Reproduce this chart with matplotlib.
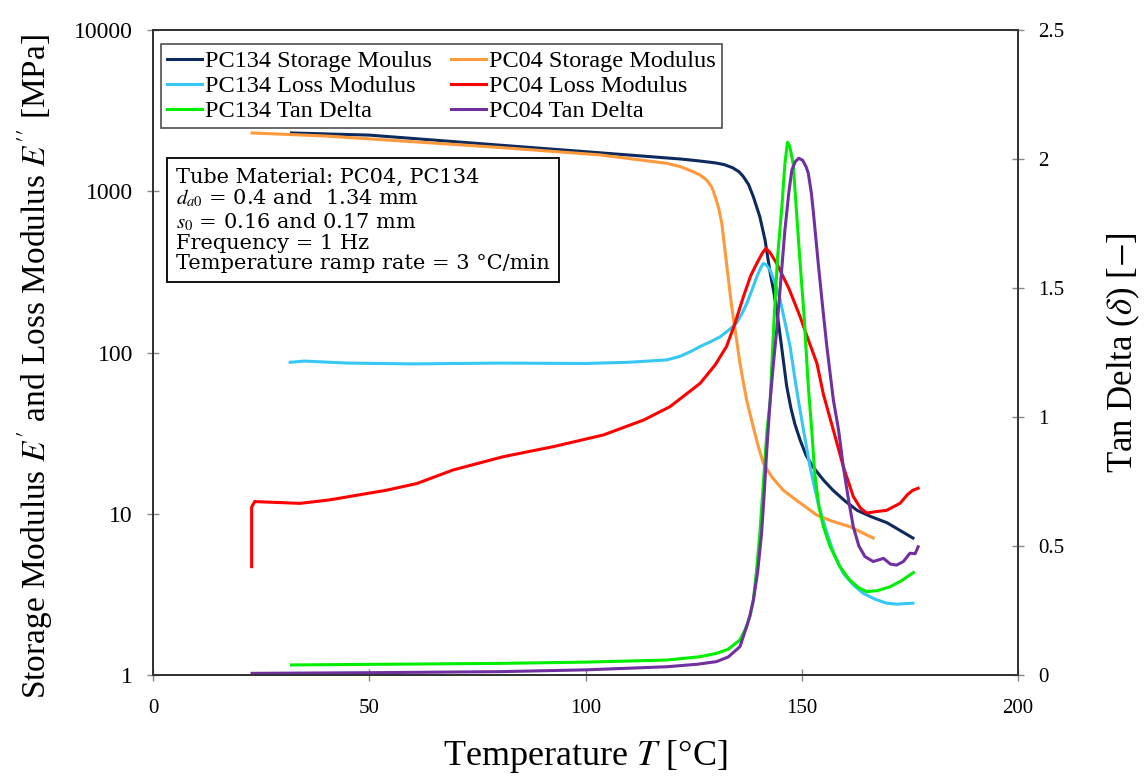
import matplotlib
matplotlib.use("Agg")
import matplotlib.pyplot as plt
from matplotlib.ticker import FixedLocator, FuncFormatter

plt.rcParams["font.family"] = ["Liberation Serif", "DejaVu Serif"]
plt.rcParams["mathtext.fontset"] = "stix"

# PC134 storage modulus E' [MPa]
pc134_sto_T = [32, 50, 75, 100, 122, 126, 130, 132, 134, 135.5, 136.5, 137.7, 138.8,
               140.3, 141.5, 142.7, 143.5, 144.2, 145.3, 146.5, 147.5, 148.4, 149.6,
               151, 152.6, 155, 157.2, 160, 162.8, 166, 169.7, 173, 175.7]
pc134_sto = [2300, 2230, 1980, 1760, 1585, 1545, 1500, 1465, 1400, 1320, 1232, 1100, 925,
             695, 499, 311, 240, 184, 110, 62, 45, 36, 28.7,
             23, 19.5, 16.2, 14.0, 12.0, 10.5, 9.6, 8.8, 7.8, 7.07]

# PC04 storage modulus E' [MPa]
pc04_sto_T = [22.9, 40, 60, 80, 103.4, 118.8, 122, 124.9, 126.5, 128, 129.2, 130, 130.8,
              131.5, 132.6, 133.8, 135.7, 136.5, 137.3, 138.5, 139.8, 141.1, 143, 145.7,
              149, 153.5, 157, 161.2, 166.5]
pc04_sto = [2300, 2200, 2030, 1870, 1680, 1490, 1420, 1322, 1260, 1175, 1060, 925, 780,
            634, 356, 192, 86, 65, 50, 37, 27, 20.6, 17, 14,
            12, 9.8, 9.0, 8.3, 7.07]

# PC134 loss modulus E'' [MPa]
pc134_loss_T = [31.7, 35, 45, 60, 80, 100, 110, 118.8, 122, 124.5, 126.5, 129, 131.1,
                133, 134.9, 136.2, 137.3, 138.5, 139.6, 140.5, 141.1, 141.8, 142.7,
                143.8, 145, 146.2, 147.3, 148.3, 149.2, 150.4, 151.9, 153.8, 155.8,
                157.5, 159.6, 162, 164.2, 167, 169.6, 172, 175.7]
pc134_loss = [87, 88.5, 86, 85, 86, 85.5, 87, 90, 95, 102, 109, 117, 125,
              137, 152, 175, 202, 245, 295, 335, 357, 350, 324,
              270, 212, 150, 109, 72, 50.7, 33, 19.6, 11.5, 7.6,
              5.6, 4.27, 3.6, 3.21, 2.95, 2.79, 2.75, 2.79]

# PC04 loss modulus E'' [MPa]
pc04_loss_T = [22.8, 22.8, 23.5, 34, 40.9, 54, 61, 69.4, 81, 92.6, 104.1, 113.4,
               119.5, 126.5, 130, 132.6, 134.5, 136.5, 138.2, 139.6, 140.8, 141.7,
               142.7, 144.2, 147, 149.6, 151.5, 153.5, 155, 157.3, 159.6, 161.9,
               163.5, 165, 167, 169.6, 172.7, 174.5, 175.7, 176.9]
pc04_loss = [4.7, 11.0, 11.9, 11.6, 12.2, 14.0, 15.4, 18.7, 22.6, 26.1, 30.8, 38.1,
             46.1, 64.4, 84, 109, 150, 222, 300, 357, 410, 443,
             415, 357, 250, 167, 120, 85.7, 55, 33, 19.6, 12.8,
             10.9, 10.1, 10.3, 10.5, 11.6, 13.2, 14, 14.4]

# PC134 tan delta [-]
pc134_tan_T = [32, 80, 100, 118.8, 126.5, 130.3, 133, 135.7, 137, 138, 138.8, 139.5,
               140.3, 141.1, 141.9, 142.7, 143.5, 144.4, 145.4, 146.1, 146.7, 147.2,
               148, 148.8, 149.6, 150.5, 151.5, 152.3, 153, 154, 155, 156.5, 158.8,
               161, 163, 165, 167.5, 170.4, 173, 175.8]
pc134_tan = [0.039, 0.045, 0.05, 0.058, 0.071, 0.084, 0.1, 0.136, 0.18, 0.226, 0.29, 0.4,
             0.549, 0.74, 0.937, 1.066, 1.35, 1.62, 1.815, 1.983, 2.065, 2.05,
             1.983, 1.79, 1.6, 1.4, 1.12, 0.95, 0.78, 0.65, 0.575, 0.5, 0.42,
             0.37, 0.34, 0.323, 0.327, 0.342, 0.365, 0.397]

# PC04 tan delta [-]
pc04_tan_T = [22.9, 50, 80.2, 100, 118.8, 126, 130.3, 133, 135.7, 136.5, 137.3, 138,
              138.8, 139.8, 140.7, 141.3, 141.9, 142.7, 143.4, 144.2, 145.2, 146.1,
              147, 147.7, 148.5, 149.3, 150.2, 151, 151.5, 152.2, 152.7, 153.8, 154.8,
              155.8, 157.3, 158.5, 159.6, 160.8, 161.9, 163.2, 164.6, 166.5, 168.9,
              170.5, 171.9, 173.5, 175, 176.2, 176.9]
pc04_tan = [0.0065, 0.009, 0.013, 0.02, 0.032, 0.042, 0.052, 0.07, 0.11, 0.15, 0.19, 0.23,
            0.29, 0.4, 0.549, 0.7, 0.872, 1.066, 1.2, 1.337, 1.54, 1.725,
            1.87, 1.957, 1.99, 2.003, 1.995, 1.97, 1.945, 1.87, 1.79, 1.596, 1.43,
            1.272, 1.066, 0.95, 0.807, 0.68, 0.575, 0.5, 0.459, 0.44, 0.452,
            0.43, 0.426, 0.44, 0.472, 0.47, 0.497]

x_ticks = [0, 50, 100, 150, 200]
left_ticks = [1, 10, 100, 1000, 10000]
right_ticks = [0, 0.5, 1, 1.5, 2, 2.5]

info_lines = [
    "Tube Material: PC04, PC134",
    r"$d_{a0}$ = 0.4 and  1.34 mm",
    r"$s_0$ = 0.16 and 0.17 mm",
    "Frequency = 1 Hz",
    "Temperature ramp rate = 3 °C/min",
]

c_navy, c_orange, c_cyan = "#0d2a5e", "#ff9a3c", "#35c8f5"
c_red, c_green, c_purple = "#ff0000", "#00ee00", "#7030a0"
lw = 2.2

fig = plt.figure(figsize=(11.48, 7.8), dpi=100)
ax = fig.add_axes([0.1333, 0.1346, 0.7535, 0.8269])
ax2 = ax.twinx()

h1, = ax.plot(pc134_sto_T, pc134_sto, color=c_navy, lw=lw, label="PC134 Storage Moulus")
h2, = ax.plot(pc134_loss_T, pc134_loss, color=c_cyan, lw=lw, label="PC134 Loss Modulus")
h4, = ax.plot(pc04_sto_T, pc04_sto, color=c_orange, lw=lw, label="PC04 Storage Modulus")
h5, = ax.plot(pc04_loss_T, pc04_loss, color=c_red, lw=lw, label="PC04 Loss Modulus")
h3, = ax2.plot(pc134_tan_T, pc134_tan, color=c_green, lw=lw, label="PC134 Tan Delta")
h6, = ax2.plot(pc04_tan_T, pc04_tan, color=c_purple, lw=lw, label="PC04 Tan Delta")

ax.set_yscale("log")
ax.set_xlim(0, 200)
ax.set_ylim(1, 10000)
ax2.set_ylim(0, 2.5)
ax.yaxis.set_major_locator(FixedLocator(left_ticks))
ax.yaxis.set_minor_locator(FixedLocator([]))
ax.yaxis.set_major_formatter(FuncFormatter(lambda v, p: f"{v:g}"))
ax.set_xticks(x_ticks)
ax2.set_yticks(right_ticks)
ax2.yaxis.set_major_formatter(FuncFormatter(lambda v, p: f"{v:g}"))

for a in (ax, ax2):
    a.tick_params(direction="inout", length=9, width=1, color="#888888",
                  labelsize=15, pad=10)
    for s in a.spines.values():
        s.set_color("#333333")
        s.set_linewidth(1.3)
ax.tick_params(axis="y", labelsize=17)
ax.tick_params(axis="x", pad=13)

ax.set_xlabel(r"Temperature $T$ [°C]", fontsize=26, labelpad=14)
ax.set_ylabel(r"Storage Modulus $E'$ and Loss Modulus $E''$ [MPa]", fontsize=24)
ax.yaxis.set_label_coords(-0.113, 0.478)
ax2.set_ylabel(r"Tan Delta ($\delta$) [$-$]", fontsize=25)
ax2.yaxis.set_label_coords(1.1, 0.5)

leg = ax2.legend(handles=[h1, h2, h3, h4, h5, h6], ncol=2, loc="upper left",
                 bbox_to_anchor=(0.0093, 0.978), borderaxespad=0, fontsize=17.5,
                 frameon=True, fancybox=False, edgecolor="#222222", handlelength=1.45,
                 handletextpad=0.1, columnspacing=0.8, labelspacing=0.12,
                 borderpad=0.25)
leg.get_frame().set_linewidth(1.2)

ax2.text(0.0266, 0.787, "\n".join(info_lines), transform=ax.transAxes, fontsize=15,
         family="DejaVu Serif", va="top", ha="left", linespacing=1.08,
         bbox=dict(boxstyle="square,pad=0.45", facecolor="white", edgecolor="#111111", lw=1.4))

fig.savefig("out.png", dpi=100)
